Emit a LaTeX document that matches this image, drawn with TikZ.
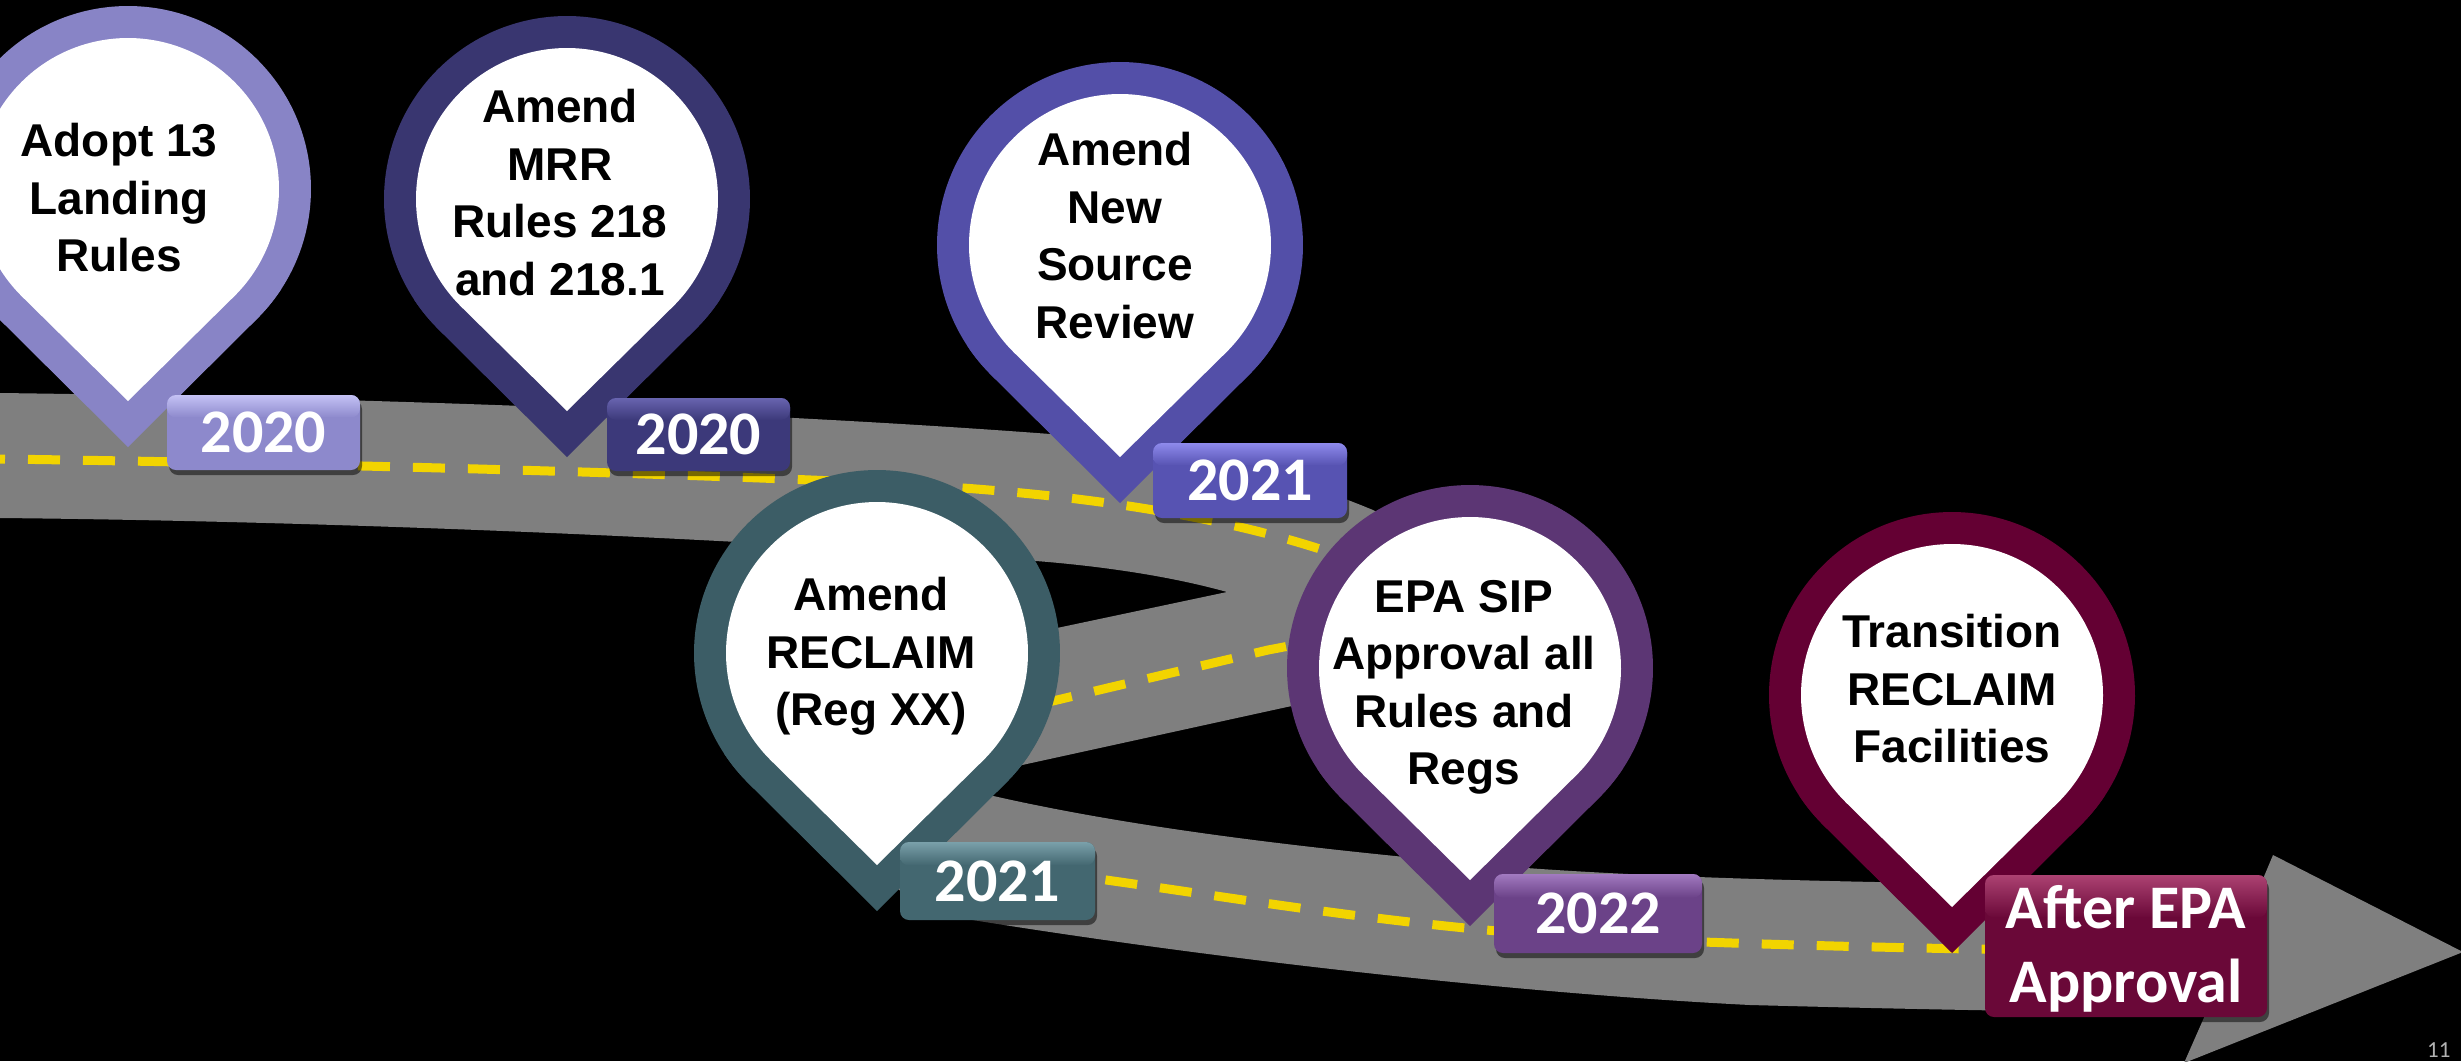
\documentclass[tikz,border=0pt]{standalone}
\usepackage{fontspec}
\setmainfont{Liberation Sans}
\newfontfamily\calfont{Carlito}
\definecolor{roadgray}{RGB}{127,127,127}
\definecolor{lane}{RGB}{242,212,0}
\definecolor{p1}{RGB}{136,132,198}
\definecolor{p2}{RGB}{57,54,112}
\definecolor{p3}{RGB}{83,79,168}
\definecolor{p4}{RGB}{60,93,102}
\definecolor{p5}{RGB}{92,54,116}
\definecolor{p6}{RGB}{100,0,51}
\definecolor{l1base}{RGB}{141,137,204}\definecolor{l1light}{RGB}{196,194,245}
\definecolor{l2base}{RGB}{60,57,122}\definecolor{l2light}{RGB}{104,100,175}
\definecolor{l3base}{RGB}{87,83,178}\definecolor{l3light}{RGB}{142,138,236}
\definecolor{l4base}{RGB}{67,103,112}\definecolor{l4light}{RGB}{122,160,170}
\definecolor{l5base}{RGB}{107,66,136}\definecolor{l5light}{RGB}{162,122,192}
\definecolor{l6base}{RGB}{106,8,56}\definecolor{l6light}{RGB}{172,66,114}
\tikzset{
  pintext/.style={font=\bfseries\fontsize{46}{57.5}\selectfont, align=center, inner sep=0pt, anchor=north, text=black},
  yeartext/.style={font=\calfont\bfseries\fontsize{62}{74}\selectfont, text=white, inner sep=0pt},
}
% pin: #1 cx, #2 cy, #3 colour
\newcommand\mypin[3]{%
  \fill[#3] (#1,#2+258) -- ([shift={(#1,#2)}]45.5:183) arc[start angle=45.5, end angle=-225.5, radius=183] -- cycle;
  \begin{scope}
    \clip (#1,#2+258) -- ([shift={(#1,#2)}]45.5:183) arc[start angle=45.5, end angle=-225.5, radius=183] -- cycle;
    \shade[top color=#3, middle color=#3!78!black, bottom color=#3] (#1-200,#2+100) rectangle (#1+200,#2+205);
  \end{scope}
  \fill[white] (#1,#2+212) -- ([shift={(#1,#2)}]45.5:151) arc[start angle=45.5, end angle=-225.5, radius=151] -- cycle;
}
% label box: #1 x1, #2 y1, #3 x2, #4 y2, #5 colour prefix
\newcommand\yearbox[5]{%
  \fill[black,opacity=0.5,rounded corners=9pt] (#1+2,#2+5) rectangle (#3+2,#4+5);
  \fill[#5base,rounded corners=9pt] (#1,#2) rectangle (#3,#4);
  \shade[top color=#5light,bottom color=#5base,rounded corners=9pt] (#1,#2) rectangle (#3,{#2+0.3*(#4-#2)});
}
\begin{document}
\begin{tikzpicture}[x=1pt,y=-1pt]
\useasboundingbox (0,0) rectangle (2461,1061);
\clip (0,0) rectangle (2461,1061);
\fill[black] (0,0) rectangle (2461,1061);
% road
\fill[roadgray] (0,393)
 .. controls (400,398) and (800,415) .. (1050,434)
 .. controls (1200,446) and (1300,480) .. (1373,510)
 .. controls (1460,555) and (1500,650) .. (1420,685)
 .. controls (1380,700) and (1330,698) .. (1287,707)
 -- (940,783)
 .. controls (1100,825) and (1300,848) .. (1500,866)
 .. controls (1700,882) and (2000,885) .. (2260,886)
 -- (2273,855) -- (2463,952) -- (2184,1063) -- (2206,1013)
 .. controls (2050,1012) and (1900,1009) .. (1750,1005)
 .. controls (1550,995) and (1250,965) .. (960,918)
 .. controls (880,900) and (820,820) .. (840,740)
 .. controls (850,690) and (950,652) .. (1057,628)
 -- (1227,592)
 .. controls (1170,576) and (1100,566) .. (1036,561)
 .. controls (800,543) and (400,522) .. (0,518) -- cycle;
% lane marking
\draw[lane, line width=9pt, dash pattern=on 32pt off 23pt, dash phase=27pt]
 (0,459) .. controls (300,463) and (700,474) .. (900,484)
 .. controls (1050,492) and (1200,510) .. (1323,550)
 .. controls (1450,592) and (1440,618) .. (1268,650)
 -- (1057,700)
 .. controls (930,730) and (880,790) .. (920,840)
 .. controls (960,870) and (1030,870) .. (1099,879)
 .. controls (1250,900) and (1450,935) .. (1650,940)
 .. controls (1800,946) and (1950,949) .. (2100,951);
% pins
\mypin{128}{189}{p1}
\mypin{567}{199}{p2}
\mypin{1120}{245}{p3}
\mypin{877}{653}{p4}
\mypin{1470}{668}{p5}
\mypin{1952}{695}{p6}
\node[pintext] (t1) at (119,123) {Adopt 13\\Landing\\Rules};
\node[pintext] (t2) at (560,89) {Amend\\MRR\\Rules 218\\and 218.1};
\node[pintext] (t3) at (1115,132) {Amend\\New\\Source\\Review};
\node[pintext] (t4) at (871,577) {Amend\\RECLAIM\\(Reg XX)};
\node[pintext] (t5) at (1464,580) {EPA SIP\\Approval all\\Rules and\\Regs};
\node[pintext] (t6) at (1952,614) {Transition\\RECLAIM\\Facilities};
% labels
\yearbox{167}{395}{360}{470}{l1}
\yearbox{607}{398}{790}{471}{l2}
\yearbox{1153}{443}{1347}{518}{l3}
\yearbox{900}{842}{1095}{920}{l4}
\yearbox{1494}{874}{1702}{953}{l5}
\yearbox{1985}{875}{2267}{1017}{l6}
\node[yeartext] (y1) at (263.5,432.5) {2020};
\node[yeartext] (y2) at (698.5,434.5) {2020};
\node[yeartext] (y3) at (1250,480.5) {2021};
\node[yeartext] (y4) at (997.5,881) {2021};
\node[yeartext] (y5) at (1598,913.5) {2022};
\node[yeartext, anchor=base] (y6a) at (2126,928) {After EPA};
\node[yeartext, anchor=base] (y6b) at (2126,1002) {Approval};
\node[font=\calfont\fontsize{23}{23}\selectfont, text=gray!60!white, anchor=base west, inner sep=0pt] (pg) at (2427,1057) {11};
\end{tikzpicture}
\end{document}
